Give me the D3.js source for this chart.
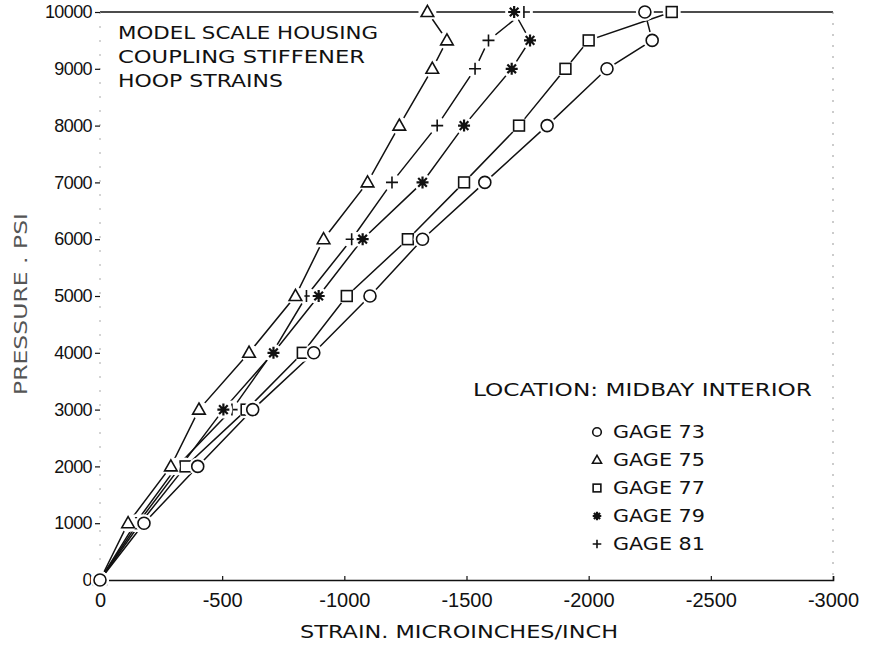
<!DOCTYPE html>
<html>
<head>
<meta charset="utf-8">
<script src="https://cdn.jsdelivr.net/npm/d3@7"></script>
<style>
  body { margin: 0; background: #fff; }
  svg  { display: block; }
  text { fill: #111; }
</style>
</head>
<body>
<svg id="chart" width="869" height="645"></svg>
<script>
/* ── Data ───────────────────────────────────────────────── */
const pressure = [0, 1000, 2000, 3000, 4000, 5000, 6000, 7000, 8000, 9000, 9500, 10000];

const gage73 = [0, -180, -400, -625, -875, -1105, -1320, -1575, -1830, -2075, -2260, -2230];
const gage75 = [0, -115, -290, -405, -610, -800, -915, -1095, -1225, -1360, -1420, -1340];
const gage77 = [0, -165, -350, -600, -830, -1010, -1260, -1490, -1715, -1905, -2000, -2340];
const gage79 = [0, -155, -330, -505, -710, -895, -1075, -1320, -1490, -1685, -1760, -1695];
const gage81 = [0, -145, -315, -540, -705, -845, -1030, -1195, -1380, -1535, -1590, -1735];

const seriesNames = ['GAGE 73', 'GAGE 75', 'GAGE 77', 'GAGE 79', 'GAGE 81'];
const seriesMarks = ['circle', 'triangle', 'square', 'asterisk', 'plus'];

const xTicks      = [0, -500, -1000, -1500, -2000, -2500, -3000];
const xTickLabels = ['0', '-500', '-1000', '-1500', '-2000', '-2500', '-3000'];
const yTicks      = [0, 1000, 2000, 3000, 4000, 5000, 6000, 7000, 8000, 9000, 10000];

const titleLines  = ['MODEL SCALE HOUSING', 'COUPLING STIFFENER', 'HOOP STRAINS'];
const legendTitle = 'LOCATION: MIDBAY INTERIOR';
const xTitle      = 'STRAIN. MICROINCHES/INCH';
const yTitle      = 'PRESSURE . PSI';

/* ── Setup ──────────────────────────────────────────────── */
const svg = d3.select('#chart');
const INK = '#111';
const TXT = '"DejaVu Sans", sans-serif';
const NUM = '"Liberation Sans", Arial, sans-serif';

const x = d3.scaleLinear().domain([0, -3000]).range([100, 833]);
const y = d3.scaleLinear().domain([0, 10000]).range([580, 12]);

const gages = [gage73, gage75, gage77, gage79, gage81].map((vals, i) => ({
  name: seriesNames[i],
  mark: seriesMarks[i],
  pts:  pressure.map((p, j) => ({ p, s: vals[j] }))
}));

/* draw one marker symbol into group g */
function drawMark(g, type, r) {
  if (type === 'circle') {
    g.append('circle').attr('r', r)
      .attr('fill', '#fff').attr('stroke', INK).attr('stroke-width', 1.6);
  } else if (type === 'triangle') {
    g.append('path')
      .attr('d', `M0,${-r * 1.1}L${r * 1.05},${r * 0.75}L${-r * 1.05},${r * 0.75}Z`)
      .attr('fill', '#fff').attr('stroke', INK).attr('stroke-width', 1.6);
  } else if (type === 'square') {
    g.append('rect').attr('x', -r * 0.9).attr('y', -r * 0.9)
      .attr('width', r * 1.8).attr('height', r * 1.8)
      .attr('fill', '#fff').attr('stroke', INK).attr('stroke-width', 1.6);
  } else if (type === 'asterisk') {
    const d = r * 0.72;
    g.append('path')
      .attr('d', `M${-r},0H${r}M0,${-r}V${r}M${-d},${-d}L${d},${d}M${d},${-d}L${-d},${d}`)
      .attr('stroke', INK).attr('stroke-width', 2.2);
    g.append('circle').attr('r', r * 0.45).attr('fill', INK);
  } else {
    g.append('path')
      .attr('d', `M${-r},0H${r}M0,${-r}V${r}`)
      .attr('stroke', INK).attr('stroke-width', 1.6);
  }
}

/* ── Frame ──────────────────────────────────────────────── */
svg.append('line')   // top
  .attr('x1', x(0)).attr('x2', x(-3000)).attr('y1', y(10000)).attr('y2', y(10000))
  .attr('stroke', INK).attr('stroke-width', 1.3);
svg.append('line')   // right, faint
  .attr('x1', x(-3000)).attr('x2', x(-3000)).attr('y1', y(10000)).attr('y2', y(0))
  .attr('stroke', '#999').attr('stroke-width', 1).attr('stroke-dasharray', '2,9');
svg.append('line')   // left, faint
  .attr('x1', x(0)).attr('x2', x(0)).attr('y1', y(10000)).attr('y2', y(0))
  .attr('stroke', '#aaa').attr('stroke-width', 1).attr('stroke-dasharray', '2,12');

/* ── Axes ───────────────────────────────────────────────── */
const xAxis = svg.append('g')
  .attr('transform', `translate(0,${y(0)})`)
  .call(d3.axisBottom(x).tickValues(xTicks).tickSize(-4).tickPadding(13)
    .tickFormat((d, i) => xTickLabels[i]));
xAxis.select('.domain').attr('stroke', INK).attr('stroke-width', 1.6);
xAxis.selectAll('.tick line').attr('stroke', INK).attr('stroke-width', 1.2);
xAxis.selectAll('.tick text')
  .attr('font-family', NUM).attr('font-size', 20).attr('fill', INK);

const yAxis = svg.append('g')
  .attr('transform', `translate(${x(0)},0)`)
  .call(d3.axisLeft(y).tickValues(yTicks).tickSize(5).tickPadding(3)
    .tickFormat(d3.format('d')));
yAxis.select('.domain').remove();
yAxis.selectAll('.tick line').attr('stroke', INK).attr('stroke-width', 1.2);
yAxis.selectAll('.tick text')
  .attr('font-family', NUM).attr('font-size', 18)
  .attr('letter-spacing', -0.6).attr('fill', INK);

/* ── Titles ─────────────────────────────────────────────── */
const titleLen = [260, 247, 165];
svg.append('g').selectAll('text')
  .data(titleLines)
  .enter()
  .append('text')
  .attr('x', 118)
  .attr('y', (d, i) => 39 + i * 24)
  .attr('font-family', TXT).attr('font-size', 18.5)
  .attr('textLength', (d, i) => titleLen[i]).attr('lengthAdjust', 'spacingAndGlyphs')
  .text(d => d);

svg.append('text')
  .attr('x', 300).attr('y', 638)
  .attr('font-family', TXT).attr('font-size', 17)
  .attr('textLength', 318).attr('lengthAdjust', 'spacingAndGlyphs')
  .text(xTitle);

svg.append('text')
  .attr('transform', 'translate(27,395) rotate(-90)')
  .attr('font-family', TXT).attr('font-size', 17).style('fill', '#555')
  .attr('textLength', 182).attr('lengthAdjust', 'spacingAndGlyphs')
  .text(yTitle);

/* ── Series lines ───────────────────────────────────────── */
const line = d3.line().x(d => x(d.s)).y(d => y(d.p));

svg.append('g').selectAll('path')
  .data(gages)
  .enter()
  .append('path')
  .attr('d', d => line(d.pts))
  .attr('fill', 'none')
  .attr('stroke', INK)
  .attr('stroke-width', 1.5);

/* ── Markers (white halo gives the plotter's line breaks) ── */
const markLayer = svg.append('g');
gages.slice().reverse().forEach(gage => {
  gage.pts.forEach(pt => {
    const g = markLayer.append('g')
      .attr('transform', `translate(${x(pt.s)},${y(pt.p)})`);
    g.append('circle').attr('r', 9).attr('fill', '#fff');
    drawMark(g, gage.mark, 6);
  });
});

/* ── Legend ─────────────────────────────────────────────── */
svg.append('text')
  .attr('x', 473).attr('y', 396)
  .attr('font-family', TXT).attr('font-size', 17)
  .attr('textLength', 339).attr('lengthAdjust', 'spacingAndGlyphs')
  .text(legendTitle);

const legend = svg.append('g');
gages.forEach((gage, i) => {
  const cy = 432 + i * 28;
  drawMark(legend.append('g').attr('transform', `translate(597,${cy})`), gage.mark, 4.3);
  legend.append('text')
    .attr('x', 613).attr('y', cy + 6)
    .attr('font-family', TXT).attr('font-size', 17)
    .attr('textLength', 92).attr('lengthAdjust', 'spacingAndGlyphs')
    .text(gage.name);
});
</script>
</body>
</html>
